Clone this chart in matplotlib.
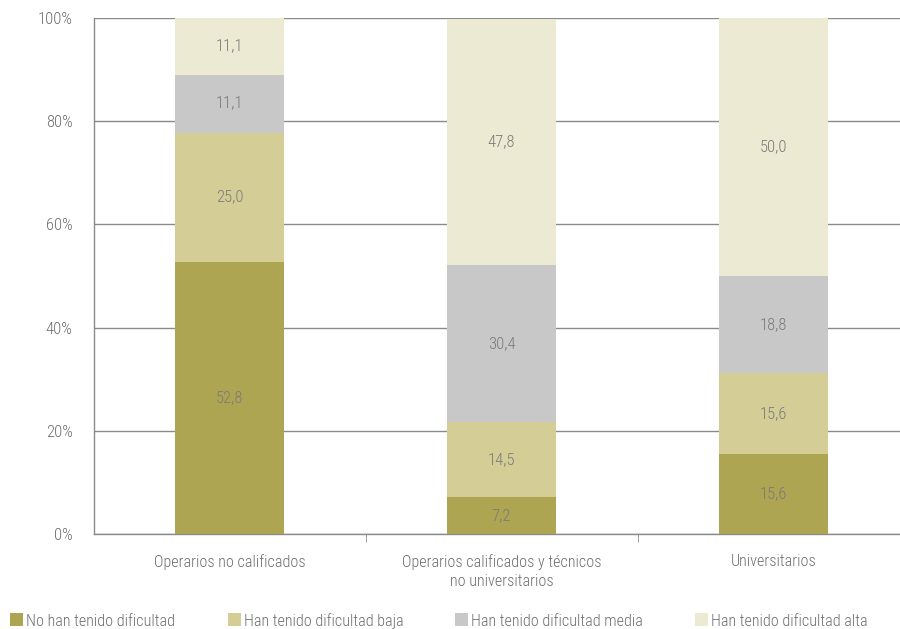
import numpy as np
import matplotlib
matplotlib.use("Agg")
import matplotlib.pyplot as plt
from matplotlib.patches import Rectangle

plt.rcParams['font.family'] = ['Roboto Condensed', 'Liberation Sans Narrow',
                               'Roboto', 'DejaVu Sans']
plt.rcParams['font.weight'] = 'light'

categories = ["Operarios no calificados",
              "Operarios calificados y técnicos\nno universitarios",
              "Universitarios"]
series_names = ["No han tenido dificultad", "Han tenido dificultad baja",
                "Han tenido dificultad media", "Han tenido dificultad alta"]
no_dificultad = [52.8, 7.2, 15.6]
dif_baja = [25.0, 14.5, 15.6]
dif_media = [11.1, 30.4, 18.8]
dif_alta = [11.1, 47.8, 50.0]
colors = ["#ADA552", "#D4CE96", "#C8C8C8", "#EDEAD3"]

series = [no_dificultad, dif_baja, dif_media, dif_alta]
text_col = "#6e6e6e"
fs = 11.6
fs_num = 12

fig = plt.figure(figsize=(9.0, 6.29), dpi=100)
ax = fig.add_axes([93.5 / 900, 95 / 629, (900 - 93.5) / 900, 516 / 629])

x = np.arange(len(categories))
bottom = np.zeros(len(categories))
for vals, col in zip(series, colors):
    vals = np.array(vals)
    ax.bar(x, vals, 0.4, bottom=bottom, color=col, zorder=3)
    for xi, b, v in zip(x, bottom, vals):
        ax.text(xi, b + v / 2, f"{v:.1f}".replace(".", ","), ha="center",
                va="center", fontsize=fs_num, color="#7a7a7a", zorder=4)
    bottom += vals

ax.set_xlim(-0.5, 2.465)
ax.set_ylim(0, 100)
ax.set_yticks([0, 20, 40, 60, 80, 100])
ax.set_yticklabels(["0%", "20%", "40%", "60%", "80%", "100%"])
ax.yaxis.grid(True, color="#8a8a8a", linewidth=1, zorder=0)
ax.set_axisbelow(True)
ax.tick_params(axis="y", length=0, pad=15, labelsize=fs_num, labelcolor=text_col)

ax.set_xticks(x)
ax.set_xticklabels(categories, fontsize=fs, color=text_col, linespacing=1.35)
ax.tick_params(axis="x", length=0, pad=14.5)
ax.set_xticks([0.5, 1.5], minor=True)
ax.tick_params(axis="x", which="minor", length=6, color="#8a8a8a", direction="out")

for s in ["top", "right"]:
    ax.spines[s].set_visible(False)
for s in ["left", "bottom"]:
    ax.spines[s].set_color("#8a8a8a")
    ax.spines[s].set_linewidth(1)

# legend drawn by hand to keep the column positions of the original
legend_x = [10, 228, 455, 695]
for lx, name, col in zip(legend_x, series_names, colors):
    fig.patches.append(Rectangle((lx / 900, 3.5 / 629), 13 / 900, 13 / 629,
                                 transform=fig.transFigure, facecolor=col,
                                 edgecolor="none"))
    fig.text((lx + 16) / 900, 9.5 / 629, name, fontsize=fs, color=text_col,
             ha="left", va="center_baseline")

fig.savefig("out.png", dpi=100)
